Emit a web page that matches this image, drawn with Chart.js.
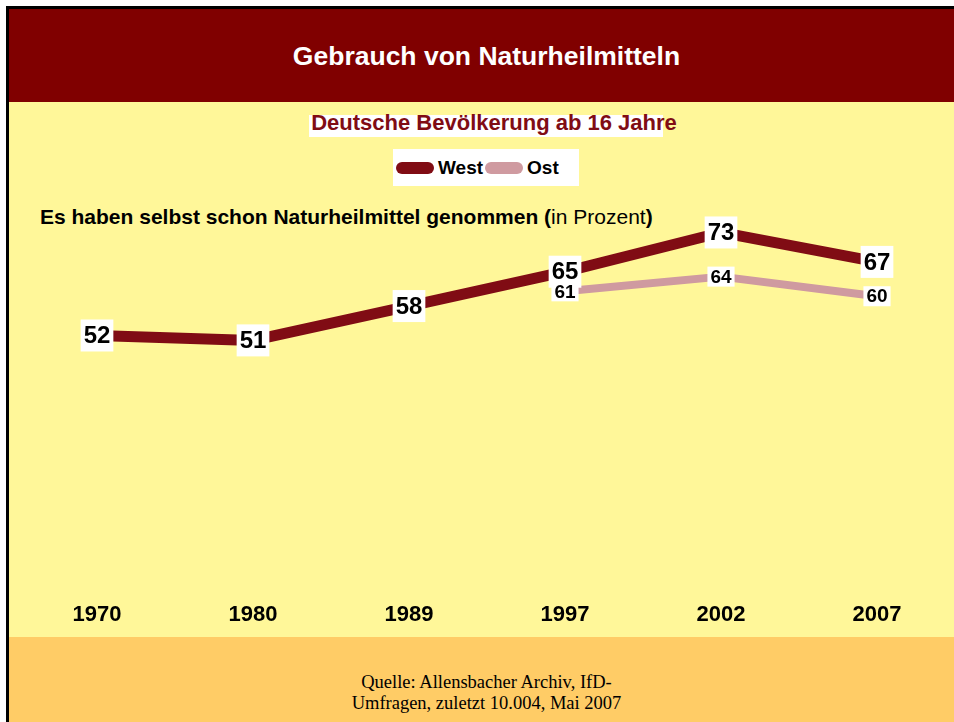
<!DOCTYPE html>
<html>
<head>
<meta charset="utf-8">
<script src="https://cdn.jsdelivr.net/npm/chart.js@4/dist/chart.umd.min.js"></script>
<style>
  body { margin: 0; background: #fff; width: 954px; height: 722px; overflow: hidden; position: relative;
         font-family: "Liberation Sans", Arial, sans-serif; }
  .abs { position: absolute; }
  #frameTop { left: 6px; top: 6px; width: 948px; height: 3px; background: #000; }
  #frameLeft { left: 6px; top: 6px; width: 3px; height: 716px; background: #000; }
  #header { left: 9px; top: 9px; width: 945px; height: 93px; background: #800000; }
  #plotBg { left: 9px; top: 102px; width: 945px; height: 535px; background: #fff799; }
  #footer { left: 9px; top: 637px; width: 945px; height: 85px; background: #ffcc66; }
  #title { left: 0; top: 42.6px; width: 973px; text-align: center; color: #fff; font-weight: bold;
           font-size: 26.5px; line-height: 26.5px; white-space: nowrap; }
  #subBox { left: 309px; top: 115px; width: 354px; height: 22px; background: #fff; }
  #subtitle { left: 309px; top: 112.4px; width: 370px; text-align: center; color: #800c14; font-weight: bold;
              font-size: 22px; line-height: 22px; white-space: nowrap; }
  #legend { left: 393px; top: 149px; width: 186px; height: 37px; background: #fff; display: flex;
            align-items: center; padding-left: 3px; box-sizing: border-box; }
  #legend .item { display: flex; align-items: center; margin-right: 2px; }
  #legend .sw { width: 38px; height: 12px; border-radius: 6px; margin-right: 4px; }
  #legend .txt { font-weight: bold; font-size: 19px; color: #000; line-height: 19px; }
  #question { left: 40px; top: 206.2px; font-size: 21px; line-height: 21px; font-weight: bold; color: #000; white-space: nowrap; }
  #question span { font-weight: normal; }
  #source { left: 0; top: 671.5px; width: 973px; text-align: center; font-family: "Liberation Serif", "Times New Roman", serif;
            font-size: 18.5px; line-height: 21px; color: #000; }
  #chartWrap { left: 0; top: 0; width: 954px; height: 722px; }
</style>
</head>
<body>
<div class="abs" id="header"></div>
<div class="abs" id="plotBg"></div>
<div class="abs" id="footer"></div>
<div class="abs" id="frameTop"></div>
<div class="abs" id="frameLeft"></div>
<div class="abs" id="title">Gebrauch von Naturheilmitteln</div>
<div class="abs" id="subBox"></div>
<div class="abs" id="subtitle">Deutsche Bevölkerung ab 16 Jahre</div>
<div class="abs" id="legend"></div>
<div class="abs" id="question">Es haben selbst schon Naturheilmittel genommen (<span>in Prozent</span>)</div>
<div class="abs" id="source">Quelle: Allensbacher Archiv, IfD-<br>Umfragen, zuletzt 10.004, Mai 2007</div>
<div class="abs" id="chartWrap"><canvas id="chart" width="954" height="722"></canvas></div>

<script>
// Data
const years = ['1970', '1980', '1989', '1997', '2002', '2007'];
const westValues = [52, 51, 58, 65, 73, 67];
const ostValues = [null, null, null, 61, 64, 60];
const seriesNames = ['West', 'Ost'];
const seriesColors = ['#800c14', '#cf9aa0'];

// Legend (HTML, built from the series)
const legendEl = document.getElementById('legend');
seriesNames.forEach(function (name, i) {
    const item = document.createElement('div');
    item.className = 'item';
    item.innerHTML = '<div class="sw" style="background:' + seriesColors[i] + '"></div><div class="txt">' + name + '</div>';
    legendEl.appendChild(item);
});

// Value labels in white boxes
const valueLabels = {
    id: 'valueLabels',
    afterDatasetsDraw(chart) {
        const ctx = chart.ctx;
        const fontSizes = [24, 19];
        const boxHeights = [32, 20];
        chart.data.datasets.forEach(function (ds, di) {
            const meta = chart.getDatasetMeta(di);
            meta.data.forEach(function (pt, i) {
                const v = ds.data[i];
                if (v === null || v === undefined) return;
                ctx.save();
                ctx.font = 'bold ' + fontSizes[di] + 'px "Liberation Sans", Arial, sans-serif';
                const w = ctx.measureText(String(v)).width + 6;
                const h = boxHeights[di];
                ctx.fillStyle = '#fff';
                ctx.fillRect(pt.x - w / 2, pt.y - h / 2, w, h);
                ctx.fillStyle = '#000';
                ctx.textAlign = 'center';
                ctx.textBaseline = 'middle';
                ctx.fillText(String(v), pt.x, pt.y + 1);
                ctx.restore();
            });
        });
    }
};

new Chart(document.getElementById('chart').getContext('2d'), {
    type: 'line',
    data: {
        labels: years,
        datasets: [
            { label: seriesNames[0], data: westValues, borderColor: seriesColors[0], borderWidth: 11,
              pointRadius: 0, tension: 0, borderJoinStyle: 'round', borderCapStyle: 'butt' },
            { label: seriesNames[1], data: ostValues, borderColor: seriesColors[1], borderWidth: 8,
              pointRadius: 0, tension: 0, borderJoinStyle: 'round', borderCapStyle: 'butt' }
        ]
    },
    options: {
        responsive: false,
        devicePixelRatio: 1,
        animation: false,
        layout: { padding: { left: 97, right: 77, top: 100, bottom: 83 } },
        plugins: { legend: { display: false }, tooltip: { enabled: false } },
        scales: {
            x: {
                offset: false,
                grid: { display: false, drawTicks: false },
                border: { display: false },
                ticks: { color: '#000', padding: 11, maxRotation: 0,
                         font: { family: '"Liberation Sans", Arial, sans-serif', size: 22, weight: 'bold' } }
            },
            y: { display: false, min: 0, max: 100 }
        }
    },
    plugins: [valueLabels]
});
</script>
</body>
</html>
